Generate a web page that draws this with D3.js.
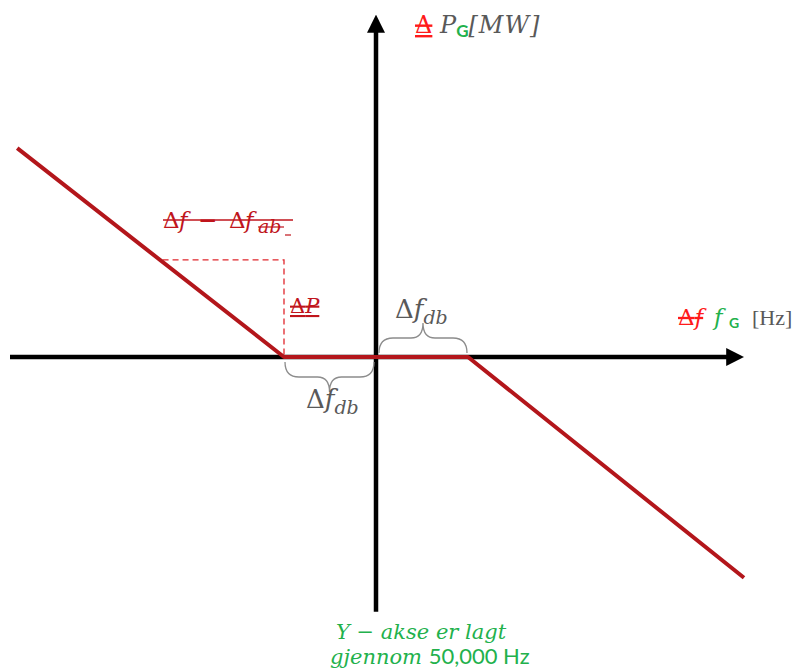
<!DOCTYPE html>
<html>
<head>
<meta charset="utf-8">
<script src="https://cdn.jsdelivr.net/npm/d3@7"></script>
<style>
  body { margin: 0; background: #fff; }
  .axis { stroke: #000; stroke-width: 4.5; fill: none; }
  .droop { stroke: #b3161b; stroke-width: 4; fill: none; stroke-linejoin: round; }
  .dash { stroke: #e0262c; stroke-width: 1.3; fill: none; stroke-dasharray: 6 4; }
  .brace { stroke: #8c8c8c; stroke-width: 1.3; fill: none; }
  .math { font-family: "DejaVu Serif", "Liberation Serif", serif; }
</style>
</head>
<body>
<div class="container"></div>
<script>
const WIDTH = 792;
const HEIGHT = 670;

// frequency deviation (units of the deadband) and power response
var droopF = [-3.9, -1, 1, 4];
var droopP = [2.27, 0, 0, -2.4];

// helper triangle showing the droop slope
var slopeF = [-2.32, -1, -1];
var slopeP = [1.055, 1.055, 0];

// deadband on both sides of the axis
var deadband = [[-1, 0], [0, 1]];

var axisF = [-4, 4];
var axisP = [-2.77, 3.73];

var translate = function (x, y) {
  return 'translate(' + x + ',' + y + ')';
};

var execute = function () {
  var svg = d3.select('.container').append('svg')
    .attr('width', WIDTH)
    .attr('height', HEIGHT);

  var x = d3.scaleLinear().domain([-4, 4]).range([8, 744]);
  var y = d3.scaleLinear().domain([0, 1]).range([357, 265]);

  var defs = svg.append('defs');
  defs.append('marker')
    .attr('id', 'arrow')
    .attr('viewBox', '0 0 10 10')
    .attr('refX', 1).attr('refY', 5)
    .attr('markerWidth', 4).attr('markerHeight', 4)
    .attr('markerUnits', 'strokeWidth')
    .attr('orient', 'auto')
    .append('path').attr('d', 'M0,0L10,5L0,10z').attr('fill', '#000');

  // axes
  svg.append('line').classed('axis', true)
    .attr('x1', x(axisF[0]) + 2).attr('y1', y(0))
    .attr('x2', x(axisF[1]) - 16).attr('y2', y(0))
    .attr('marker-end', 'url(#arrow)');
  svg.append('line').classed('axis', true)
    .attr('x1', x(0)).attr('y1', y(axisP[0]))
    .attr('x2', x(0)).attr('y2', y(axisP[1]) + 17)
    .attr('marker-end', 'url(#arrow)');

  var line = d3.line()
    .x(function (d) { return x(d[0]); })
    .y(function (d) { return y(d[1]); });

  // dashed slope helper
  svg.append('path').classed('dash', true)
    .attr('d', line(d3.zip(slopeF, slopeP)));

  // droop characteristic
  svg.append('path').classed('droop', true)
    .attr('d', line(d3.zip(droopF, droopP)));

  // curly braces
  var brace = function (x1, x2, y0, dir) {
    var h = 15 * dir, m = (x1 + x2) / 2, q = 7 * dir;
    return 'M' + x1 + ',' + (y0) +
      'Q' + x1 + ',' + (y0 + h) + ' ' + (x1 + 14) + ',' + (y0 + h) +
      'L' + (m - 12) + ',' + (y0 + h) +
      'Q' + m + ',' + (y0 + h) + ' ' + m + ',' + (y0 + h + q + 8 * dir) +
      'Q' + m + ',' + (y0 + h) + ' ' + (m + 12) + ',' + (y0 + h) +
      'L' + (x2 - 14) + ',' + (y0 + h) +
      'Q' + x2 + ',' + (y0 + h) + ' ' + x2 + ',' + y0;
  };
  svg.append('path').classed('brace', true)
    .attr('d', brace(x(deadband[0][0]) + 1, x(deadband[0][1]) - 2, y(0) + 5, 1));
  svg.append('path').classed('brace', true)
    .attr('d', brace(x(deadband[1][0]) + 3, x(deadband[1][1]) - 1, y(0) - 4, -1));

  var addDb = function (px, py) {
    var t = svg.append('text').classed('math', true)
      .attr('x', px).attr('y', py)
      .attr('font-size', 26).attr('fill', '#595959');
    t.append('tspan').text('Δ');
    t.append('tspan').attr('font-style', 'italic').text('f');
    t.append('tspan').attr('font-style', 'italic')
      .attr('font-size', 19).attr('dy', 6).text('db');
  };
  addDb(306, 408);
  addDb(395, 318);

  // red annotations
  var red = '#c0151c';
  var lbl = svg.append('g').classed('math', true)
    .attr('fill', red).attr('font-size', 23);
  lbl.append('text').attr('x', 163).attr('y', 228).text('Δ');
  lbl.append('text').attr('x', 179).attr('y', 228).attr('font-style', 'italic').text('f');
  lbl.append('text').attr('x', 198).attr('y', 228).attr('font-weight', 'bold').text('−');
  lbl.append('text').attr('x', 229).attr('y', 228).text('Δ');
  lbl.append('text').attr('x', 245).attr('y', 228).attr('font-style', 'italic').text('f');
  lbl.append('text').attr('x', 258).attr('y', 233).attr('font-size', 19)
    .attr('font-style', 'italic').text('ab');
  lbl.append('line').attr('x1', 163).attr('x2', 293)
    .attr('y1', 220).attr('y2', 220)
    .attr('stroke', red).attr('stroke-width', 1.5);
  lbl.append('line').attr('x1', 258).attr('x2', 284)
    .attr('y1', 227).attr('y2', 227)
    .attr('stroke', red).attr('stroke-width', 1.2);
  lbl.append('line').attr('x1', 285).attr('x2', 291)
    .attr('y1', 235).attr('y2', 235)
    .attr('stroke', red).attr('stroke-width', 1.2);

  var dp = svg.append('text').classed('math', true)
    .attr('x', 290).attr('y', 313)
    .attr('font-size', 21).attr('fill', red)
    .style('text-decoration', 'line-through underline');
  dp.append('tspan').text('Δ');
  dp.append('tspan').attr('font-style', 'italic').text('P');

  // axis titles
  var yt = svg.append('text').classed('math', true)
    .attr('x', 415).attr('y', 33).attr('font-size', 24);
  yt.append('tspan').attr('fill', '#ff1a1a')
    .style('text-decoration', 'line-through underline').text('Δ');
  yt.append('tspan').attr('fill', '#595959').attr('font-style', 'italic').text(' P');
  yt.append('tspan').attr('fill', '#22b14c').attr('font-family', 'Lato, sans-serif')
    .attr('font-weight', 'bold').attr('font-size', 17).attr('dy', 4).text('G');
  yt.append('tspan').attr('fill', '#595959').attr('font-style', 'italic')
    .attr('dy', -4).attr('letter-spacing', 1).text('[MW]');

  var xt = svg.append('g').classed('math', true).attr('font-size', 23);
  xt.append('text').attr('x', 678).attr('y', 325).attr('fill', '#ff1a1a')
    .style('text-decoration', 'line-through')
    .append('tspan').text('Δ')
    .append('tspan').attr('font-style', 'italic').text('f');
  xt.append('text').attr('x', 714).attr('y', 325).attr('fill', '#22b14c')
    .attr('font-style', 'italic').text('f');
  xt.append('text').attr('x', 729).attr('y', 328).attr('fill', '#22b14c')
    .attr('font-family', 'Lato, sans-serif').attr('font-weight', 'bold')
    .attr('font-size', 14).text('G');
  xt.append('text').attr('x', 752).attr('y', 325).attr('fill', '#595959')
    .attr('font-family', '"Liberation Serif", serif').attr('font-size', 22)
    .text('[Hz]');

  // note under the y axis
  var note = svg.append('g').attr('transform', translate(336, 0))
    .attr('fill', '#22b14c');
  note.append('text').classed('math', true)
    .attr('x', 0).attr('y', 639).attr('font-size', 21)
    .attr('font-style', 'italic').text('Y − akse er lagt');
  var n2 = note.append('text').attr('x', -6).attr('y', 664).attr('font-size', 22);
  n2.append('tspan').attr('font-family', '"DejaVu Serif", serif')
    .attr('font-size', 21).attr('font-style', 'italic').text('gjennom ');
  n2.append('tspan').attr('font-family', 'Lato, sans-serif').text('50,000 Hz');
};

window.onload = execute;
</script>
</body>
</html>
